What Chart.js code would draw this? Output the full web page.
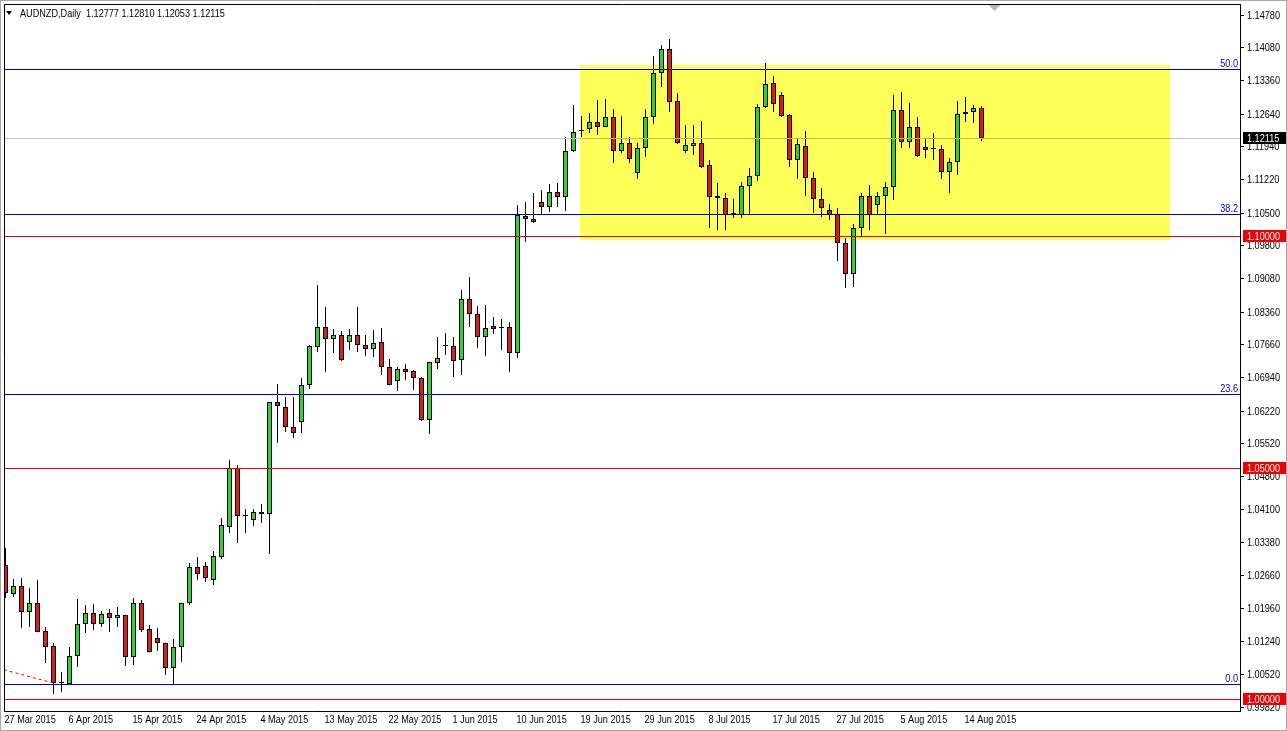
<!DOCTYPE html>
<html>
<head>
<meta charset="utf-8">
<title>AUDNZD, Daily</title>
<script src="https://cdn.jsdelivr.net/npm/chart.js@4.4.1/dist/chart.umd.min.js"></script>
<style>
  html, body { margin: 0; padding: 0; background: #fff; }
  canvas { display: block; }
</style>
</head>
<body>
<canvas id="grafico" width="1287" height="731"></canvas>
<script>
// header: symbol + last bar O H L C
const symbol = 'AUDNZD,Daily';
const lastBar = [1.12777, 1.12810, 1.12053, 1.12115];

// daily bars (Sunday bars included)
const opens = [
  1.02894, 1.02268, 1.02441, 1.01879, 1.02073, 1.01468, 1.01144, 1.00344, 1.00323, 1.00928,
  1.01619, 1.01857, 1.01619, 1.01857, 1.01749, 1.01814, 1.00906, 1.02073, 1.01511, 1.01317,
  1.01209, 1.00669, 1.01122, 1.02073, 1.02851, 1.02873, 1.02570, 1.03067, 1.03716, 1.04991,
  1.03953, 1.03867, 1.04040, 1.03997, 1.06417, 1.06309, 1.05877, 1.05985, 1.06784, 1.07605,
  1.08038, 1.07778, 1.07865, 1.07713, 1.07865, 1.07649, 1.07562, 1.07713, 1.07173, 1.06871,
  1.07130, 1.07087, 1.06935, 1.06028, 1.07260, 1.07627, 1.07627, 1.07324, 1.08643, 1.08319,
  1.07821, 1.08059, 1.08016, 1.08038, 1.07476, 1.10436, 1.10371, 1.10739, 1.10631, 1.10955,
  1.10847, 1.11841, 1.12273, 1.12316, 1.12468, 1.12360, 1.12576, 1.11841, 1.12014, 1.11366,
  1.11906, 1.12576, 1.13527, 1.14045, 1.12921, 1.11841, 1.11949, 1.12014, 1.11538, 1.10868,
  1.10825, 1.10480, 1.10458, 1.11085, 1.11301, 1.12792, 1.13310, 1.13051, 1.12619, 1.11646,
  1.11949, 1.11257, 1.10804, 1.10566, 1.10480, 1.09853, 1.09183, 1.10177, 1.10868, 1.10674,
  1.10868, 1.11063, 1.12727, 1.12035, 1.12360, 1.11927, 1.11884, 1.11884, 1.11387, 1.11603,
  1.12641, 1.12684, 1.12777
];
const highs = [
  1.03262, 1.02592, 1.02613, 1.02397, 1.02570, 1.01555, 1.01209, 1.00582, 1.01122, 1.02160,
  1.02030, 1.02052, 1.01900, 1.01944, 1.01987, 1.01820, 1.02181, 1.02138, 1.01598, 1.01533,
  1.01215, 1.01295, 1.02080, 1.02938, 1.03067, 1.02959, 1.03197, 1.03910, 1.05163, 1.05055,
  1.04105, 1.04105, 1.04213, 1.06420, 1.06806, 1.06525, 1.06525, 1.06935, 1.07649, 1.08945,
  1.08470, 1.07994, 1.07951, 1.07994, 1.08470, 1.07865, 1.07973, 1.08016, 1.07346, 1.07173,
  1.07238, 1.07108, 1.06957, 1.07285, 1.07821, 1.07908, 1.07821, 1.08837, 1.09118, 1.08491,
  1.08513, 1.08254, 1.08210, 1.08146, 1.10674, 1.10739, 1.10933, 1.10998, 1.11128, 1.11149,
  1.12143, 1.12835, 1.12597, 1.12662, 1.12943, 1.12965, 1.12749, 1.12597, 1.12143, 1.12014,
  1.12749, 1.13894, 1.14132, 1.14261, 1.13094, 1.12403, 1.12403, 1.12489, 1.11646, 1.11149,
  1.10933, 1.10804, 1.11171, 1.11474, 1.12857, 1.13743, 1.13462, 1.13116, 1.12641, 1.12122,
  1.12273, 1.11387, 1.11041, 1.10696, 1.10609, 1.09961, 1.10263, 1.10933, 1.11106, 1.10955,
  1.11171, 1.13051, 1.13116, 1.12878, 1.12576, 1.12122, 1.12230, 1.11971, 1.11690, 1.12921,
  1.13008, 1.12835, 1.12810
];
const lows = [
  1.02181, 1.02203, 1.01533, 1.01555, 1.01440, 1.00777, 1.00107, 1.00150, 1.00301, 1.00690,
  1.01425, 1.01490, 1.01555, 1.01447, 1.01555, 1.00712, 1.00733, 1.01447, 1.01010, 1.01036,
  1.00517, 1.00301, 1.00798, 1.02030, 1.02570, 1.02527, 1.02462, 1.03024, 1.03586, 1.03370,
  1.03586, 1.03737, 1.03802, 1.03132, 1.05531, 1.05769, 1.05639, 1.05747, 1.06698, 1.07497,
  1.07065, 1.07476, 1.07303, 1.07541, 1.07497, 1.07411, 1.07389, 1.07000, 1.06780, 1.06655,
  1.06892, 1.06676, 1.06006, 1.05725, 1.07130, 1.07432, 1.06957, 1.07000, 1.08038, 1.07584,
  1.07411, 1.07886, 1.07541, 1.07065, 1.07368, 1.09874, 1.10285, 1.10458, 1.10523, 1.10631,
  1.10544, 1.11819, 1.12143, 1.12230, 1.12187, 1.12355, 1.11582, 1.11798, 1.11582, 1.11236,
  1.11711, 1.12424, 1.13224, 1.12684, 1.11992, 1.11798, 1.11754, 1.11474, 1.10177, 1.10134,
  1.10134, 1.10393, 1.10393, 1.10458, 1.11193, 1.12770, 1.12684, 1.12576, 1.11495, 1.11236,
  1.10868, 1.10501, 1.10415, 1.10350, 1.09464, 1.08880, 1.08902, 1.09982, 1.10134, 1.10458,
  1.10047, 1.10782, 1.11906, 1.11906, 1.11711, 1.11690, 1.11646, 1.11236, 1.10933, 1.11322,
  1.12468, 1.12446, 1.12053
];
const closes = [
  1.02289, 1.02441, 1.01879, 1.02073, 1.01447, 1.01122, 1.00344, 1.00366, 1.00928, 1.01619,
  1.01857, 1.01619, 1.01836, 1.01749, 1.01814, 1.00906, 1.02073, 1.01490, 1.01014, 1.01209,
  1.00669, 1.01122, 1.02073, 1.02851, 1.02700, 1.02613, 1.03089, 1.03759, 1.04991, 1.03953,
  1.03953, 1.04040, 1.03997, 1.06417, 1.06330, 1.05877, 1.05747, 1.06784, 1.07627, 1.08038,
  1.07778, 1.07865, 1.07324, 1.07865, 1.07649, 1.07562, 1.07692, 1.07173, 1.06784, 1.07130,
  1.07065, 1.06935, 1.06028, 1.07281, 1.07368, 1.07627, 1.07303, 1.08643, 1.08319, 1.07821,
  1.08016, 1.07994, 1.08016, 1.07476, 1.10458, 1.10371, 1.10307, 1.10631, 1.10955, 1.10847,
  1.11841, 1.12252, 1.12273, 1.12468, 1.12360, 1.12576, 1.11841, 1.12014, 1.11668, 1.11906,
  1.12576, 1.13527, 1.14045, 1.12900, 1.12014, 1.11971, 1.12014, 1.11495, 1.10847, 1.10825,
  1.10458, 1.10480, 1.11085, 1.11301, 1.12792, 1.13289, 1.12857, 1.12597, 1.11646, 1.11992,
  1.11257, 1.10804, 1.10609, 1.10458, 1.09853, 1.09183, 1.10177, 1.10868, 1.10458, 1.10868,
  1.11063, 1.12727, 1.12035, 1.12360, 1.11733, 1.11863, 1.11884, 1.11387, 1.11603, 1.12641,
  1.12684, 1.12770, 1.12115
];

// time axis: one label every 8 bars
const dateTicks = [0, 8, 16, 24, 32, 40, 48, 56, 64, 72, 80, 88, 96, 104, 112, 120];
const dateLabels = [
  '27 Mar 2015', '6 Apr 2015', '15 Apr 2015', '24 Apr 2015', '4 May 2015', '13 May 2015',
  '22 May 2015', '1 Jun 2015', '10 Jun 2015', '19 Jun 2015', '29 Jun 2015', '8 Jul 2015',
  '17 Jul 2015', '27 Jul 2015', '5 Aug 2015', '14 Aug 2015'
];

// price axis
const priceTicks = [
  1.14780, 1.14080, 1.13360, 1.12640, 1.11940, 1.11220, 1.10500, 1.09800, 1.09080, 1.08360,
  1.07660, 1.06940, 1.06220, 1.05520, 1.04800, 1.04100, 1.03380, 1.02660, 1.01960, 1.01240,
  1.00520, 0.99820
];

// drawn objects
const fibNames = ['50.0', '38.2', '23.6', '0.0'];
const fibPrices = [1.13613, 1.10477, 1.06596, 1.00323];
const redLevels = [1.10000, 1.05000, 1.00000];
const boxBars = [71.8, 145.6];
const boxPrices = [1.13699, 1.09918];
const trendBars = [-0.2, 6];
const trendPrices = [1.00630, 1.00344];

const FONT = "11px 'Liberation Sans', Arial, sans-serif";
const SX = 0.83; // narrow terminal font look
const VERDE = '#32d232';
const VERMELHO = '#dc1e1e';
const AZUL = '#0000c8';

const idx = opens.map((_, i) => i);

// condensed text helper
const texto = (c, str, x, y, align) => {
  c.save();
  c.translate(x, y);
  c.scale(SX, 1);
  c.textAlign = align;
  c.fillText(str, 0, 0);
  c.restore();
};

const overlay = {
  id: 'overlay',
  beforeDraw(chart) {
    const c = chart.ctx;
    c.save();
    c.fillStyle = '#fff';
    c.fillRect(0, 0, chart.width, chart.height);
    c.restore();
  },
  afterDatasetsDraw(chart) {
    const { ctx: c, chartArea: a, scales: { x, y } } = chart;
    const hline = (p, color) => {
      const py = Math.round(y.getPixelForValue(p)) + 0.5;
      c.strokeStyle = color;
      c.lineWidth = 1;
      c.beginPath();
      c.moveTo(a.left, py);
      c.lineTo(a.right, py);
      c.stroke();
      return py;
    };
    c.save();
    hline(lastBar[3], '#c0c0c0');
    redLevels.forEach(p => hline(p, '#e00000'));
    c.font = FONT;
    c.textBaseline = 'bottom';
    fibPrices.forEach((p, i) => {
      const py = hline(p, AZUL);
      c.fillStyle = AZUL;
      texto(c, fibNames[i], a.right - 2, py, 'right');
    });

    // yellow rectangle, multiplied over lines and candles
    const x0 = Math.round(x.getPixelForValue(boxBars[0]));
    const x1 = Math.round(x.getPixelForValue(boxBars[1]));
    const y0 = Math.round(y.getPixelForValue(boxPrices[0]));
    const y1 = Math.round(y.getPixelForValue(boxPrices[1]));
    c.globalCompositeOperation = 'multiply';
    c.fillStyle = '#ffff5a';
    c.fillRect(x0, y0, x1 - x0, y1 - y0);
    c.globalCompositeOperation = 'source-over';

    // left / top frame
    c.strokeStyle = '#000';
    c.beginPath();
    c.moveTo(a.left + 0.5, a.bottom);
    c.lineTo(a.left + 0.5, a.top + 0.5);
    c.lineTo(a.right, a.top + 0.5);
    c.stroke();
    c.restore();
  },
  afterDraw(chart) {
    const { ctx: c, chartArea: a, scales: { x, y } } = chart;
    c.save();
    c.font = FONT;
    c.textBaseline = 'middle';
    c.fillStyle = '#000';

    // axis labels at the library's tick positions
    y.ticks.forEach(t => texto(c, t.value.toFixed(5), a.right + 7, y.getPixelForValue(t.value) + 0.5, 'left'));
    x.ticks.forEach(t => texto(c, dateLabels[dateTicks.indexOf(t.value)], x.getPixelForValue(t.value) - 1, a.bottom + 9, 'left'));

    const tag = (p, bg) => {
      const py = Math.round(y.getPixelForValue(p));
      c.fillStyle = bg;
      c.fillRect(a.right + 3, py - 6, 43, 12);
      c.fillStyle = '#fff';
      texto(c, p.toFixed(5), a.right + 7, py + 0.5, 'left');
    };
    redLevels.forEach(p => tag(p, '#f00000'));
    tag(lastBar[3], '#000');

    // header
    c.fillStyle = '#000';
    c.beginPath();
    c.moveTo(6, 11); c.lineTo(12, 11); c.lineTo(9, 15);
    c.closePath();
    c.fill();
    texto(c, `${symbol}  ${lastBar.map(v => v.toFixed(5)).join(' ')}`, 20, 13.5, 'left');

    // chart shift marker
    const sx = Math.round(x.getPixelForValue(123.5)) + 0.5;
    c.fillStyle = '#b4b4b4';
    c.beginPath();
    c.moveTo(sx - 6, a.top + 1); c.lineTo(sx + 6, a.top + 1); c.lineTo(sx, a.top + 7);
    c.closePath();
    c.fill();

    // outer window frame
    c.strokeStyle = '#a8a8a8';
    c.strokeRect(0.5, 0.5, chart.width - 1, chart.height - 1);
    c.restore();
  }
};

const semPadding = s => {
  s.paddingTop = 0;
  s.paddingBottom = 0;
  s.paddingLeft = 0;
  s.paddingRight = 0;
};

new Chart(document.getElementById('grafico'), {
  type: 'bar',
  data: {
    datasets: [
      {
        label: 'wicks',
        order: 3,
        data: idx.map(i => ({ x: i, y: [lows[i], highs[i]] })),
        backgroundColor: '#000',
        borderWidth: 0,
        barThickness: 1,
        grouped: false,
        inflateAmount: 0,
      },
      {
        label: 'bodies',
        order: 2,
        data: idx.map(i => ({ x: i, y: [opens[i], closes[i]] })),
        backgroundColor: idx.map(i => (closes[i] >= opens[i] ? VERDE : VERMELHO)),
        borderColor: '#000',
        borderWidth: 1,
        borderSkipped: false,
        barThickness: 5,
        minBarLength: 1,
        grouped: false,
        inflateAmount: 0,
      },
      {
        type: 'line',
        label: 'trend',
        order: 1,
        data: trendBars.map((b, i) => ({ x: b, y: trendPrices[i] })),
        borderColor: '#e00000',
        borderWidth: 1,
        borderDash: [3, 3],
        pointRadius: 0,
      },
    ],
  },
  options: {
    responsive: false,
    animation: false,
    devicePixelRatio: 1,
    layout: { padding: { left: 4, top: 4, right: 0, bottom: 0 } },
    plugins: { legend: { display: false }, tooltip: { enabled: false } },
    scales: {
      x: {
        type: 'linear',
        min: -0.1875,
        max: 154.3125,
        offset: false,
        grid: { drawOnChartArea: false, drawTicks: false, color: '#000' },
        border: { display: true, color: '#000', width: 1 },
        ticks: { display: false, autoSkip: false, maxRotation: 0 },
        afterBuildTicks: s => { s.ticks = dateTicks.map(v => ({ value: v })); },
        afterFit: s => { s.height = 20; semPadding(s); },
      },
      y: {
        position: 'right',
        min: 0.99740,
        max: 1.15018,
        grid: { drawOnChartArea: false, drawTicks: true, tickLength: 4, color: '#000' },
        border: { display: true, color: '#000', width: 1 },
        ticks: { display: false },
        afterBuildTicks: s => { s.ticks = priceTicks.map(v => ({ value: v })); },
        afterFit: s => { s.width = 47; semPadding(s); },
      },
    },
  },
  plugins: [overlay],
});
</script>
</body>
</html>
